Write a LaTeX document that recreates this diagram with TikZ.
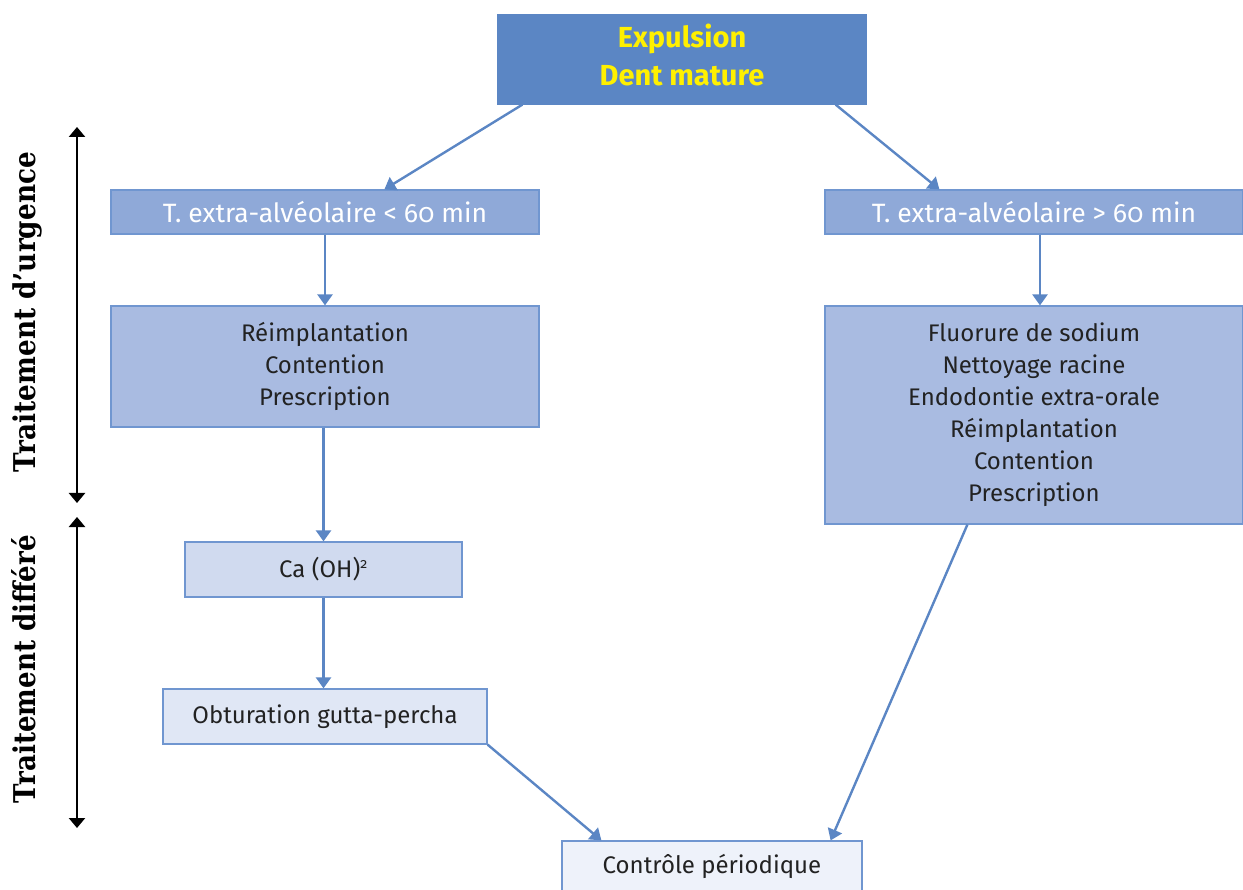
\documentclass[tikz,border=0pt]{standalone}
\usepackage{fontspec}
\setmainfont{Fira Sans}[Numbers=OldStyle]
\newfontfamily\slabfont{DejaVu Serif}
\usetikzlibrary{arrows.meta}
\definecolor{topfill}{HTML}{5B86C4}
\definecolor{tfill}{HTML}{8FA9D8}
\definecolor{mfill}{HTML}{A9BBE1}
\definecolor{cafill}{HTML}{D0DAEF}
\definecolor{obfill}{HTML}{E0E7F5}
\definecolor{cofill}{HTML}{EEF2FA}
\definecolor{edge}{HTML}{7096D0}
\definecolor{arrowblue}{HTML}{5B86C4}
\definecolor{txt}{HTML}{222222}
\definecolor{yell}{HTML}{FFF000}
\begin{document}
\begin{tikzpicture}[x=1pt,y=-1pt,
  box/.style={draw=edge,line width=1.2pt,inner sep=0pt,align=center,text=txt,font=\fontsize{24}{32}\selectfont},
  flow/.style={draw=arrowblue,line width=2.4pt,-{Triangle[width=15pt,length=11pt]}},
  span/.style={draw=black,line width=2.6pt,{Triangle[width=16pt,length=10pt]}-{Triangle[width=16pt,length=10pt]}},
  side/.style={rotate=90,inner sep=0pt,text=black,anchor=base}]
\useasboundingbox (0,0) rectangle (1243,890);
\node[box,fill=topfill,draw=topfill,text=yell,minimum width=368pt,minimum height=89pt,inner ysep=0pt,font=\fontsize{29}{36}\selectfont\bfseries] (top) at (682,59.5) {\raisebox{2pt}{\begin{tabular}{@{}c@{}}Expulsion\\[2pt]Dent mature\end{tabular}}};
\node[box,fill=tfill,text=white,minimum width=428pt,minimum height=44pt,font=\fontsize{26.5}{32}\selectfont] (t1) at (325,212) {T. extra-alvéolaire < 60 min};
\node[box,fill=tfill,text=white,minimum width=418pt,minimum height=44pt,font=\fontsize{26.5}{32}\selectfont] (t2) at (1034,212) {T. extra-alvéolaire > 60 min};
\node[box,fill=mfill,minimum width=428pt,minimum height=121pt] (r1) at (325,366.5) {Réimplantation\\Contention\\Prescription};
\node[box,fill=mfill,minimum width=418pt,minimum height=218pt] (r2) at (1034,415) {Fluorure de sodium\\Nettoyage racine\\Endodontie extra-orale\\Réimplantation\\Contention\\Prescription};
\node[box,fill=cafill,minimum width=277pt,minimum height=55pt] (ca) at (323.5,569.5) {Ca (OH)\textsuperscript{\fontsize{14}{14}\selectfont 2}};
\node[box,fill=obfill,minimum width=324pt,minimum height=55pt] (ob) at (325,716.5) {Obturation gutta-percha};
\node[box,fill=cofill,minimum width=300pt,minimum height=50pt] (co) at (712,866) {Contrôle périodique};
% connectors
\draw[flow] ([xshift=25pt]top.south west) -- ([xshift=274pt]t1.north west);
\draw[flow] ([xshift=-31pt]top.south east) -- ([xshift=115pt]t2.north west);
\draw[flow] (t1.south) -- (r1.north);
\draw[flow] ([xshift=6pt]t2.south) -- ([xshift=6pt]r2.north);
\draw[flow] (r1.south -| ca.north) -- (ca.north);
\draw[flow] (ca.south) -- (ca.south |- ob.north);
\draw[flow] (ob.south east) -- ([xshift=40pt]co.north west);
\draw[flow] ([xshift=143pt]r2.south west) -- ([xshift=-32pt]co.north east);
% side spans
\coordinate (u1) at (77,127);
\coordinate (u2) at (77,503);
\coordinate (d1) at (77,517);
\coordinate (d2) at (77,828);
\draw[span] (u1) -- (u2);
\draw[span] (d1) -- (d2);
\node[side] (lu) at (35,312) {\resizebox{320pt}{\height}{\fontsize{30}{30}\slabfont\bfseries Traitement d’urgence}};
\node[side] (ld) at (35,669) {\resizebox{268pt}{\height}{\fontsize{30}{30}\slabfont\bfseries Traitement différé}};
\end{tikzpicture}
\end{document}
